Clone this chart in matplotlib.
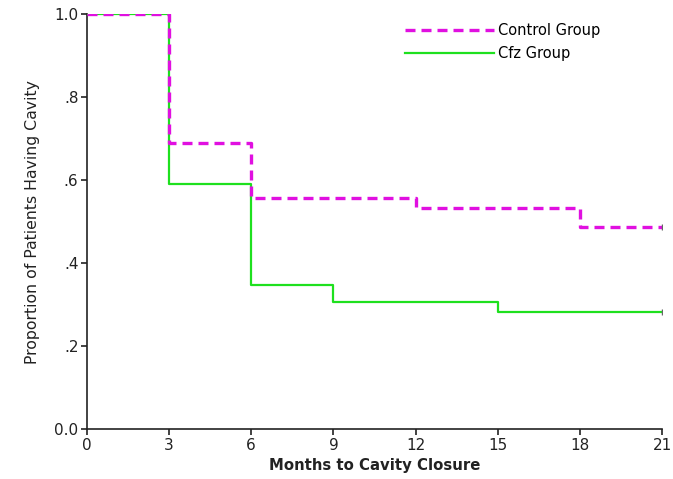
import matplotlib
matplotlib.use('Agg')
import matplotlib.pyplot as plt
from matplotlib.ticker import FixedLocator

# Kaplan-Meier step data (value holds from time[i] until time[i+1])
months = [0, 3, 6, 9, 12, 15, 18, 21]
control_times = [0, 3, 6, 12, 18, 21]
control_surv = [1.0, 0.689, 0.557, 0.533, 0.487, 0.487]
cfz_times = [0, 3, 6, 9, 15, 21]
cfz_surv = [1.0, 0.590, 0.347, 0.306, 0.282, 0.282]
y_ticks = [0.0, 0.2, 0.4, 0.6, 0.8, 1.0]
y_tick_labels = ['0.0', '.2', '.4', '.6', '.8', '1.0']

plt.rcParams['font.family'] = ['DejaVu Sans']

fig = plt.figure(figsize=(6.73, 4.79), dpi=100)
ax = fig.add_axes([0.129, 0.104, 0.855, 0.867])

ax.step(cfz_times, cfz_surv, where='post', color='#1ee01e', lw=1.6, label='Cfz Group', zorder=3)
ax.step(control_times, control_surv, where='post', color='#e010e0', lw=2.4,
        ls=(0, (3, 1.8)), label='Control Group', zorder=4)

# censor marks at the end of follow-up
ax.plot([control_times[-1]], [control_surv[-1]], marker='|', color='#666666', ms=5, mew=1, zorder=5)
ax.plot([cfz_times[-1]], [cfz_surv[-1]], marker='|', color='#666666', ms=5, mew=1, zorder=5)

ax.set_xlim(0, 21)
ax.set_ylim(0, 1.0)
ax.xaxis.set_major_locator(FixedLocator(months))
ax.set_xticklabels([str(m) for m in months], fontsize=11)
ax.yaxis.set_major_locator(FixedLocator(y_ticks))
ax.set_yticklabels(y_tick_labels, fontsize=11)

for s in ['top', 'right']:
    ax.spines[s].set_visible(False)
for s in ['left', 'bottom']:
    ax.spines[s].set_linewidth(1.2)
    ax.spines[s].set_color('#222222')
ax.tick_params(direction='out', length=4, width=1.2, pad=2, colors='#222222')

ax.set_xlabel('Months to Cavity Closure', fontsize=10.7, fontweight='bold',
              color='#222222', labelpad=4)
ax.set_ylabel('Proportion of Patients Having Cavity', fontsize=11.3, labelpad=10,
              color='#222222')

handles, labels = ax.get_legend_handles_labels()
ax.legend(handles[::-1], labels[::-1], loc='upper left', bbox_to_anchor=(0.531, 1.01),
          frameon=False, fontsize=10.5, handlelength=6.1, handletextpad=0.25,
          labelspacing=0.55)

fig.savefig('out.png', dpi=100, facecolor='white')
